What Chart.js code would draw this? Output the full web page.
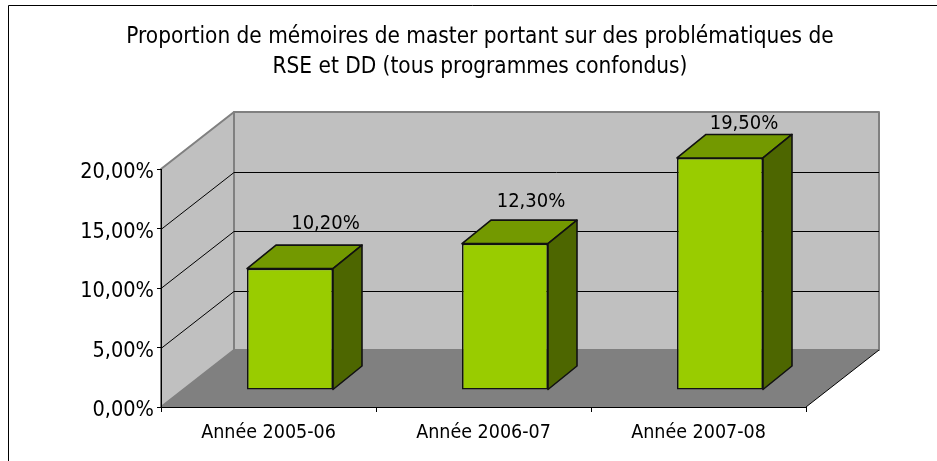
<!DOCTYPE html>
<html lang="fr">
<head>
<meta charset="utf-8">
<title>Mémoires de master RSE et DD</title>
<script src="https://cdn.jsdelivr.net/npm/chart.js@4"></script>
<style>
  html, body { margin: 0; background: #fff; overflow: hidden; }
  canvas { display: block; }
</style>
</head>
<body>
<canvas id="chart" width="937" height="461"></canvas>
<script>
const titleLines = ['Proportion de mémoires de master portant sur des problématiques de', 'RSE et DD (tous programmes confondus)'];
const categories = ['Année 2005-06', 'Année 2006-07', 'Année 2007-08'];
const shares = [10.2, 12.3, 19.5];
const yTicks = [0, 5, 10, 15, 20];

const FONT = '"DejaVu Sans Condensed", "DejaVu Sans", sans-serif';
const WALL = { dx: 73, dy: -57 };   // depth of the whole box
const BAR_SHIFT = { dx: 21.5, dy: -17 };  // bars sit inside the box
const BAR_DEPTH = { dx: 29, dy: -23.5 };
const labelNudge = [[35.5, -45], [26, -42], [24, -34]];  // label offset from the front face top centre

const fmtPct = v => v.toFixed(2).replace('.', ',') + '%';

function poly(ctx, pts, fill, stroke, lw) {
  ctx.beginPath();
  pts.forEach((p, i) => i ? ctx.lineTo(p[0], p[1]) : ctx.moveTo(p[0], p[1]));
  ctx.closePath();
  if (fill) { ctx.fillStyle = fill; ctx.fill(); }
  if (stroke) { ctx.strokeStyle = stroke; ctx.lineWidth = lw; ctx.lineJoin = 'round'; ctx.stroke(); }
}

// frame, walls, floor and title, behind the axes
const box3d = {
  id: 'box3d',
  beforeDraw(chart) {
    const { ctx, chartArea: a, scales: { y } } = chart;
    const { dx, dy } = WALL;
    ctx.save();

    // outer frame only shows on top and left
    ctx.strokeStyle = '#000';
    ctx.lineWidth = 1;
    ctx.beginPath();
    ctx.moveTo(8.5, 461);
    ctx.lineTo(8.5, 5.5);
    ctx.lineTo(937, 5.5);
    ctx.stroke();

    poly(ctx, [[a.left, a.bottom], [a.left, a.top], [a.left + dx, a.top + dy], [a.left + dx, a.bottom + dy]], '#c0c0c0', '#808080', 2);
    poly(ctx, [[a.left + dx, a.top + dy], [a.right + dx, a.top + dy], [a.right + dx, a.bottom + dy], [a.left + dx, a.bottom + dy]], '#c0c0c0', '#808080', 2);
    poly(ctx, [[a.left, a.bottom], [a.right, a.bottom], [a.right + dx, a.bottom + dy], [a.left + dx, a.bottom + dy]], '#808080');

    ctx.strokeStyle = '#000';
    ctx.lineWidth = 1;
    ctx.beginPath();
    yTicks.slice(1, -1).forEach(v => {
      const py = Math.round(y.getPixelForValue(v)) + 0.5;
      ctx.moveTo(a.left, py);
      ctx.lineTo(a.left + dx, py + dy);
      ctx.lineTo(a.right + dx, py + dy);
    });
    ctx.moveTo(a.right, a.bottom);
    ctx.lineTo(a.right + dx, a.bottom + dy);
    ctx.stroke();

    ctx.fillStyle = '#000';
    ctx.font = '22.4px ' + FONT;
    ctx.textAlign = 'center';
    ctx.textBaseline = 'middle';
    titleLines.forEach((t, i) => ctx.fillText(t, 480, 37 + i * 30));
    ctx.restore();
  }
};

// pushes the bars back into the box and adds their top and side faces
const bars3d = {
  id: 'bars3d',
  beforeDatasetsDraw(chart) {
    const { ctx } = chart;
    ctx.save();
    ctx.translate(BAR_SHIFT.dx, BAR_SHIFT.dy);
  },
  afterDatasetsDraw(chart) {
    const { ctx } = chart;
    const { dx, dy } = BAR_DEPTH;
    const bars = chart.getDatasetMeta(0).data;
    bars.forEach(b => {
      const l = b.x - b.width / 2, r = b.x + b.width / 2;
      poly(ctx, [[l, b.y], [r, b.y], [r + dx, b.y + dy], [l + dx, b.y + dy]], '#739900', '#111', 1.6);
      poly(ctx, [[r, b.y], [r + dx, b.y + dy], [r + dx, b.base + dy], [r, b.base]], '#4d6600', '#111', 1.6);
    });
    ctx.restore();

    ctx.save();
    ctx.fillStyle = '#000';
    ctx.font = '20px ' + FONT;
    ctx.textAlign = 'center';
    ctx.textBaseline = 'middle';
    bars.forEach((b, i) => {
      ctx.fillText(fmtPct(shares[i]), b.x + BAR_SHIFT.dx + labelNudge[i][0], b.y + BAR_SHIFT.dy + labelNudge[i][1]);
    });
    ctx.restore();
  }
};

new Chart(document.getElementById('chart'), {
  type: 'bar',
  data: {
    labels: categories,
    datasets: [{
      data: shares,
      backgroundColor: '#99cc00',
      borderColor: '#111',
      borderWidth: 1.6,
      borderSkipped: false,
      barPercentage: 0.4,
      categoryPercentage: 1,
      clip: false
    }]
  },
  options: {
    responsive: false,
    animation: false,
    layout: { padding: { top: 169, left: 0, right: 131, bottom: 0 } },
    plugins: { legend: { display: false }, tooltip: { enabled: false } },
    scales: {
      y: {
        min: 0, max: 20,
        afterFit: s => { s.width = 161; },
        afterBuildTicks: s => { s.ticks = yTicks.map(value => ({ value })); },
        border: { color: '#000', width: 1 },
        grid: { drawOnChartArea: false, color: '#000', tickLength: 4 },
        // empty first line drops the text a little so it centres on the tick
        ticks: { color: '#000', padding: 3, font: { family: FONT, size: 21.5, lineHeight: '7px' }, callback: v => ['', fmtPct(v)] }
      },
      x: {
        afterFit: s => { s.height = 54; },
        border: { color: '#000', width: 1 },
        grid: { drawOnChartArea: false, color: '#000', tickLength: 5 },
        ticks: { color: '#000', padding: 9, font: { family: FONT, size: 19.5 }, maxRotation: 0 }
      }
    }
  },
  plugins: [box3d, bars3d]
});
</script>
</body>
</html>
